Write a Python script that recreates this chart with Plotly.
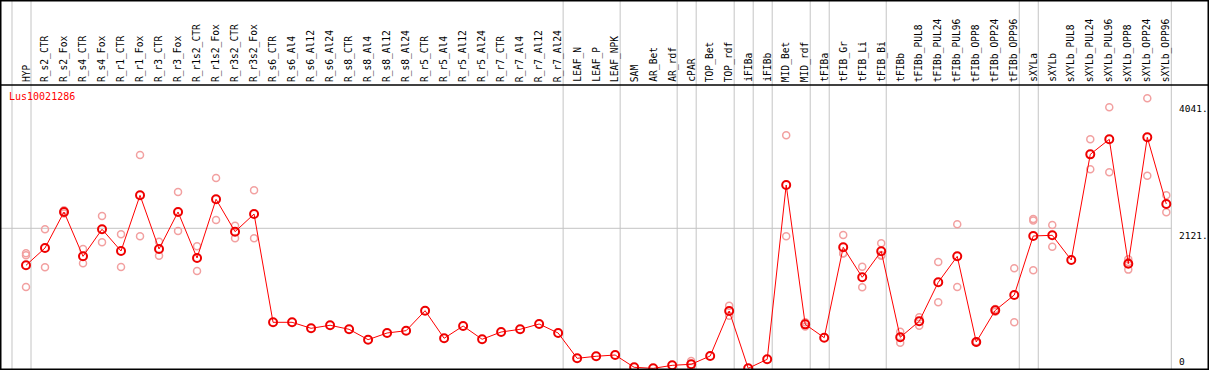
import plotly.graph_objects as go

gene = "Lus10021286"

categories = [
    "HYP", "R_s2_CTR", "R_s2_Fox", "R_s4_CTR", "R_s4_Fox", "R_r1_CTR", "R_r1_Fox",
    "R_r3_CTR", "R_r3_Fox", "R_r1s2_CTR", "R_r1s2_Fox", "R_r3s2_CTR", "R_r3s2_Fox",
    "R_s6_CTR", "R_s6_Al4", "R_s6_Al12", "R_s6_Al24", "R_s8_CTR", "R_s8_Al4",
    "R_s8_Al12", "R_s8_Al24", "R_r5_CTR", "R_r5_Al4", "R_r5_Al12", "R_r5_Al24",
    "R_r7_CTR", "R_r7_Al4", "R_r7_Al12", "R_r7_Al24", "LEAF_N", "LEAF_P", "LEAF_NPK",
    "SAM", "AR_Bet", "AR_rdf", "cPAR", "TOP_Bet", "TOP_rdf", "iFIBa", "iFIBb",
    "MID_Bet", "MID_rdf", "tFIBa", "tFIB_Gr", "tFIB_Li", "tFIB_Bi", "tFIBb",
    "tFIBb_PUL8", "tFIBb_PUL24", "tFIBb_PUL96", "tFIBb_OPP8", "tFIBb_OPP24",
    "tFIBb_OPP96", "sXYLa", "sXYLb", "sXYLb_PUL8", "sXYLb_PUL24", "sXYLb_PUL96",
    "sXYLb_OPP8", "sXYLb_OPP24", "sXYLb_OPP96",
]

means = [
    1561, 1823, 2368, 1697, 2106, 1778, 2620, 1808, 2368, 1672, 2560, 2070, 2337,
    699, 699, 608, 654, 593, 436, 537, 572, 874, 457, 643, 442, 552, 593, 673, 537,
    154, 185, 204, 18, 2, 48, 64, 189, 870, 3, 139, 2776, 668, 466, 1834, 1380, 1773,
    472, 714, 1304, 1697, 401, 880, 1112, 2005, 2015, 1641, 3240, 3467, 1586, 3498, 2489,
]

replicates = [
    [1743, 1713, 1233], [2106, 1531], [2395, 2345], [1808, 1592], [2307, 1909],
    [2030, 1536], [3230, 2000], [1918, 1707], [2670, 2080], [1849, 1475],
    [2882, 2247], [2160, 1970], [2696, 1970],
    [], [], [], [], [], [], [], [], [], [], [], [], [], [], [], [],
    [], [], [], [], [], [], [114, 14], [], [950, 799], [], [],
    [3528, 2000], [700, 635], [], [2020, 1743, 1740], [1540, 1228], [1894, 1707, 1718],
    [557, 390], [775, 648], [1611, 1001], [2181, 1233], [410, 392], [900, 860],
    [1516, 699], [2260, 2240, 1486], [2171, 1843], [], [3467, 3013], [3951, 2968],
    [1652, 1610, 1496], [4088, 2917], [2620, 2363],
]

# groups end after these categories (a separator line is drawn after each)
group_ends = ["HYP", "R_r7_Al24", "LEAF_NPK", "AR_rdf", "cPAR", "TOP_rdf", "iFIBa",
              "iFIBb", "MID_rdf", "tFIBa", "tFIB_Bi", "tFIBb_OPP96", "sXYLa", "sXYLb_OPP96"]

y_ticks = [0, 2121, 4041]
y_tick_text = ["0", "2121.", "4041."]

W, H = 1209, 370
TOP = 85
X_RANGE = [-1.368, 62.247]
Y_RANGE = [-22.7, 4289]

xs = list(range(len(categories)))
rep_x = [i for i, r in enumerate(replicates) for _ in r]
rep_y = [v for r in replicates for v in r]


def xpaper(v):
    return (v - X_RANGE[0]) / (X_RANGE[1] - X_RANGE[0])


fig = go.Figure()
fig.add_trace(go.Scatter(
    x=rep_x, y=rep_y, mode="markers",
    marker=dict(symbol="circle-open", size=7, color="#f2a0a0", line=dict(width=1.5, color="#f2a0a0")),
    hoverinfo="skip", showlegend=False,
))
fig.add_trace(go.Scatter(
    x=xs, y=means, mode="lines+markers",
    line=dict(color="#ff0000", width=1),
    marker=dict(symbol="circle-open", size=8, color="#ee0000", line=dict(width=2, color="#ee0000")),
    showlegend=False,
))

top_paper = H / (H - TOP)
shapes = []
sep_positions = [-1] + [categories.index(c) for c in group_ends]
offset = 5 / 19.0
for p in sep_positions:
    xp = xpaper(p + offset)
    shapes.append(dict(type="line", xref="paper", yref="paper", x0=xp, x1=xp, y0=0, y1=top_paper,
                       line=dict(color="#c4c4c4", width=1), layer="below"))
last_sep = xpaper(sep_positions[-1] + offset)
shapes.append(dict(type="line", xref="paper", yref="y", x0=0, x1=last_sep, y0=y_ticks[1], y1=y_ticks[1],
                   line=dict(color="#c4c4c4", width=1), layer="below"))
shapes.append(dict(type="line", xref="paper", yref="paper", x0=0, x1=1, y0=1, y1=1,
                   line=dict(color="black", width=1.5)))
shapes.append(dict(type="rect", xref="paper", yref="paper", x0=0, x1=1, y0=0, y1=top_paper,
                   line=dict(color="black", width=3)))

annotations = []
for i, c in enumerate(categories):
    annotations.append(dict(x=i, xref="x", y=1, yref="paper", text=c, showarrow=False,
                            textangle=-90, xanchor="center", yanchor="bottom", yshift=1,
                            font=dict(family="DejaVu Sans Mono", size=9.6, color="black")))
annotations.append(dict(x=7 / W, xref="paper", y=1 - 4 / (H - TOP), yref="paper", text=gene,
                        showarrow=False, xanchor="left", yanchor="top",
                        font=dict(family="DejaVu Sans Mono", size=10, color="#ff0000")))
for v, t in zip(y_ticks, y_tick_text):
    annotations.append(dict(x=last_sep + 6 / W, xref="paper", y=v, yref="y", text=t, showarrow=False,
                            xanchor="left", yanchor="bottom" if v == 0 else "top",
                            font=dict(family="DejaVu Sans Mono", size=9.5, color="black")))

fig.update_layout(
    width=W, height=H,
    margin=dict(l=0, r=0, t=TOP, b=0),
    paper_bgcolor="white", plot_bgcolor="white",
    xaxis=dict(range=X_RANGE, visible=False, fixedrange=True),
    yaxis=dict(range=Y_RANGE, visible=False, fixedrange=True),
    shapes=shapes, annotations=annotations,
    showlegend=False,
)

fig.write_html(
    "out.html",
    config={"displayModeBar": False},
    post_script="document.body.style.margin='0';document.body.style.overflow='hidden';",
)
